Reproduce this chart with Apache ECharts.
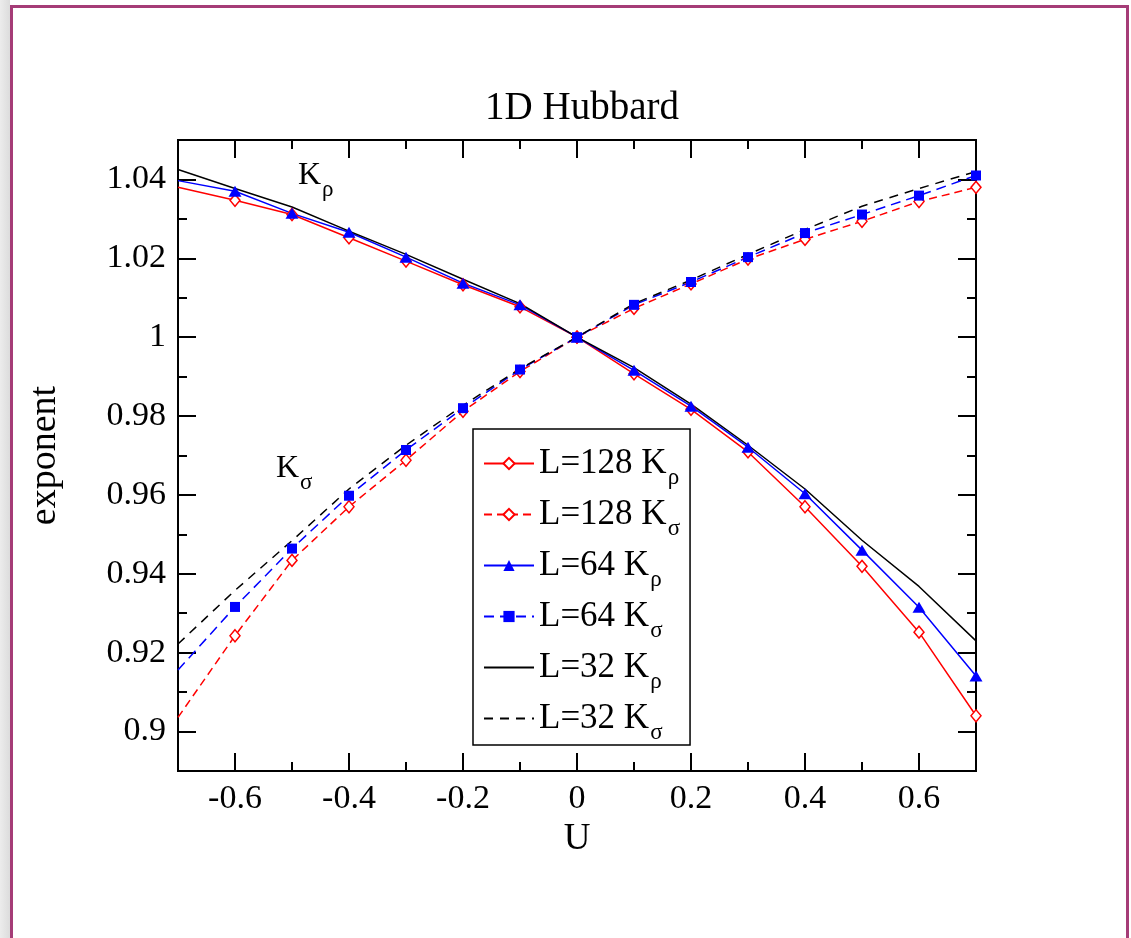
<!DOCTYPE html>
<html><head><meta charset="utf-8">
<script src="https://cdn.jsdelivr.net/npm/echarts@6/dist/echarts.min.js"></script>
<style>
html,body{margin:0;padding:0;background:#fff;overflow:hidden;width:1131px;height:938px;}
#strip{position:absolute;left:0;top:0;width:10px;height:938px;background:linear-gradient(to right,#ececec,#dcdcdc);}
#frame{position:absolute;left:10px;top:5px;width:1113px;height:1000px;border:3px solid #a53c77;}
#chart{position:absolute;left:0;top:0;width:1131px;height:938px;}
</style></head><body>
<div id="strip"></div><div id="frame"></div><div id="chart"></div>
<script>
// ---- data ----
const U = [-0.7,-0.6,-0.5,-0.4,-0.3,-0.2,-0.1,0,0.1,0.2,0.3,0.4,0.5,0.6,0.7];
const kRhoL128   = [1.038,1.0347,1.0311,1.0252,1.0193,1.0133,1.0077,1.0,0.9907,0.9817,0.9709,0.957,0.9419,0.9252,0.904];
const kSigmaL128 = [0.9036,0.9243,0.9434,0.957,0.9688,0.9812,0.9913,1.0,1.0073,1.0135,1.0198,1.0248,1.0294,1.0344,1.038];
const kRhoL64    = [1.0397,1.037,1.0314,1.0266,1.0203,1.0137,1.0082,1.0,0.9916,0.9825,0.9721,0.9603,0.946,0.9315,0.9141];
const kSigmaL64  = [0.9156,0.9316,0.9464,0.9598,0.9714,0.982,0.9918,1.0,1.0082,1.014,1.0203,1.0264,1.0311,1.0359,1.041];
const kRhoL32    = [1.0425,1.0377,1.033,1.0269,1.021,1.0147,1.0085,1.0,0.9923,0.983,0.9726,0.9615,0.9485,0.9368,0.923];
const kSigmaL32  = [0.9222,0.9358,0.9484,0.9615,0.9726,0.9827,0.992,1.0,1.0085,1.0145,1.021,1.0273,1.0332,1.0377,1.042];
const seriesNames = ['L=128 Kρ','L=128 Kσ','L=64 Kρ','L=64 Kσ','L=32 Kρ','L=32 Kσ'];
const xMajorTicks = [-0.6,-0.4,-0.2,0,0.2,0.4,0.6];
const xMinorTicks = [-0.5,-0.3,-0.1,0.1,0.3,0.5];
const yMajorTicks = [0.9,0.92,0.94,0.96,0.98,1,1.02,1.04];
const yMinorTicks = [0.91,0.93,0.95,0.97,0.99,1.01,1.03];
const titleText = '1D Hubbard';
const xName = 'U';
const yName = 'exponent';

// ---- chart ----
const FONT = 'Liberation Serif';
function pts(vals, hideFirst){
  return U.map((u,i)=>{
    const d = {value:[u, vals[i]]};
    if (hideFirst && i===0) d.symbol = 'none';
    return d;
  });
}
const axisLineStyle = {color:'#000', width:2};
function xAxisDef(pos, ticks, len, labels){
  return {
    type:'value', min:-0.7, max:0.7, position:pos,
    splitLine:{show:false},
    axisLine:{show:true, onZero:false, lineStyle:axisLineStyle},
    axisTick:{show:true, inside:true, length:len, customValues:ticks, lineStyle:{color:'#000', width:2}},
    axisLabel: labels ? {show:true, customValues:ticks, margin:11, color:'#000', fontFamily:FONT, fontSize:34,
      formatter:v=>String(+(+v).toFixed(2))} : {show:false}
  };
}
function yAxisDef(pos, ticks, len, labels){
  return {
    type:'value', min:0.89, max:1.05, position:pos,
    splitLine:{show:false},
    axisLine:{show:true, onZero:false, lineStyle:axisLineStyle},
    axisTick:{show:true, inside:true, length:len, customValues:ticks, lineStyle:{color:'#000', width:2}},
    axisLabel: labels ? {show:true, customValues:ticks, margin:12, color:'#000', fontFamily:FONT, fontSize:34,
      formatter:v=>String(+(+v).toFixed(2))} : {show:false}
  };
}
const xAxes = [
  Object.assign(xAxisDef('bottom', xMajorTicks, 18, true), {name:xName, nameLocation:'middle', nameGap:45,
    nameTextStyle:{color:'#000', fontFamily:FONT, fontSize:37}}),
  xAxisDef('bottom', xMinorTicks, 9, false),
  xAxisDef('top', xMajorTicks, 18, false),
  xAxisDef('top', xMinorTicks, 9, false)
];
const yAxes = [
  Object.assign(yAxisDef('left', yMajorTicks, 18, true), {name:yName, nameLocation:'middle', nameGap:114,
    nameTextStyle:{color:'#000', fontFamily:FONT, fontSize:38}}),
  yAxisDef('left', yMinorTicks, 9, false),
  yAxisDef('right', yMajorTicks, 18, false),
  yAxisDef('right', yMinorTicks, 9, false)
];

const RED='#ff0000', BLUE='#0000ff', BLACK='#000000', NONE='rgba(0,0,0,0)';
const series = [
  {name:seriesNames[0], data:pts(kRhoL128,true), color:RED, lineStyle:{color:RED,width:1.5,type:'solid'},
   symbol:'diamond', symbolSize:[10,12], itemStyle:{color:'#fff', borderColor:RED, borderWidth:1.5}},
  {name:seriesNames[1], data:pts(kSigmaL128,true), color:RED, lineStyle:{color:RED,width:1.5,type:[8,5]},
   symbol:'diamond', symbolSize:[10,12], itemStyle:{color:'#fff', borderColor:RED, borderWidth:1.5}},
  {name:seriesNames[2], data:pts(kRhoL64,true), color:BLUE, lineStyle:{color:BLUE,width:1.5,type:'solid'},
   symbol:'triangle', symbolSize:[13,11], itemStyle:{color:BLUE}},
  {name:seriesNames[3], data:pts(kSigmaL64,true), color:BLUE, lineStyle:{color:BLUE,width:1.5,type:[10,6]},
   symbol:'rect', symbolSize:10, itemStyle:{color:BLUE}},
  {name:seriesNames[4], data:pts(kRhoL32,false), lineStyle:{color:BLACK,width:1.5,type:'solid'},
   symbol:'none', itemStyle:{color:NONE, borderColor:NONE, borderWidth:0}},
  {name:seriesNames[5], data:pts(kSigmaL32,false), lineStyle:{color:BLACK,width:1.5,type:[9,7]},
   symbol:'none', itemStyle:{color:NONE, borderColor:NONE, borderWidth:0}}
].map(s=>Object.assign({type:'line', xAxisIndex:0, yAxisIndex:0, showSymbol:true, clip:true, z:3}, s));

const subRich = {s:{fontFamily:FONT, fontSize:23, padding:[28,0,0,1], color:'#000'}};
const chart = echarts.init(document.getElementById('chart'), null, {renderer:'canvas'});
chart.setOption({
  animation:false,
  backgroundColor:'transparent',
  title:{text:titleText, left:577, textAlign:'center', top:84,
    textStyle:{color:'#000', fontFamily:FONT, fontSize:39, fontWeight:'normal'}},
  grid:{left:178, top:140, right:155, bottom:167, containLabel:false, outerBoundsMode:'none'},
  xAxis:xAxes,
  yAxis:yAxes,
  legend:{
    orient:'vertical', left:473, top:429, padding:[17,10,1,10], itemGap:8,
    itemWidth:50, itemHeight:14, borderColor:'#000', borderWidth:1.5, backgroundColor:'#fff',
    data:seriesNames,
    formatter: n => n.replace(/K(.)$/, 'K{s|$1}'),
    textStyle:{color:'#000', fontFamily:FONT, fontSize:35, lineHeight:33, rich:subRich}
  },
  graphic:[
    {type:'text', left:298, top:160, z:10, style:{text:'K{s|ρ}', fill:'#000', fontFamily:FONT, fontSize:32, lineHeight:32, rich:subRich}},
    {type:'text', left:276, top:453, z:10, style:{text:'K{s|σ}', fill:'#000', fontFamily:FONT, fontSize:32, lineHeight:32, rich:subRich}}
  ],
  series:series
});
</script>
</body></html>
